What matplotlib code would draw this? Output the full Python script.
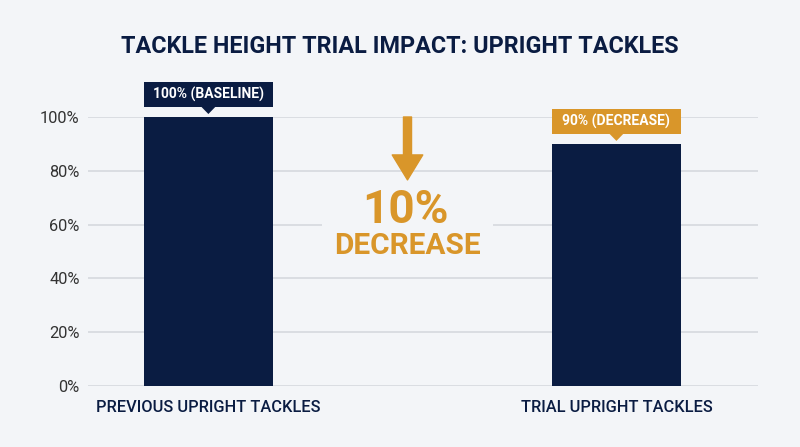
import matplotlib
matplotlib.use("Agg")
import matplotlib.pyplot as plt
from matplotlib.patches import Rectangle, Polygon, FancyArrowPatch

plt.rcParams['font.family'] = ['Roboto', 'DejaVu Sans']

categories = ["PREVIOUS UPRIGHT TACKLES", "TRIAL UPRIGHT TACKLES"]
values = [100, 90]
box_labels = ["100% (BASELINE)", "90% (DECREASE)"]
yticks = [0, 20, 40, 60, 80, 100]
change_pct = "10%"
change_word = "DECREASE"

bg = "#f3f5f8"
navy = "#0a1c42"
orange = "#d9962a"
grid_col = "#d8dbe0"

fig = plt.figure(figsize=(8, 4.47), dpi=100, facecolor=bg)
ax = fig.add_axes([0.11, 0.1365, 0.837, 0.6018])
ax.set_facecolor(bg)

x = list(range(len(values)))
bw = 0.316
ax.bar(x, values, width=bw, color=navy, zorder=3)

ax.set_xlim(-0.295, 1.346)
ax.set_ylim(0, 100)
ax.set_yticks(yticks)
ax.set_yticklabels([f"{t}%" for t in yticks], fontsize=11.8, color="#333333")
ax.set_xticks(x)
ax.set_xticklabels(categories, fontsize=11.8, color=navy, fontweight="medium")
ax.tick_params(axis="both", length=0)
ax.tick_params(axis="y", pad=6)
ax.tick_params(axis="x", pad=10)
ax.grid(axis="y", color=grid_col, linewidth=1.3, zorder=0)
for s in ax.spines.values():
    s.set_visible(False)

# callout boxes above bars
box_colors = [navy, orange]
for xi, v, lab, c in zip(x, values, box_labels, box_colors):
    b0 = v + 3.8
    h = 9.1
    ax.add_patch(Rectangle((xi - bw / 2, b0), bw, h, facecolor=c,
                           edgecolor="none", clip_on=False, zorder=4))
    ax.add_patch(Polygon([(xi - 0.018, b0 + 0.1), (xi + 0.018, b0 + 0.1), (xi, v + 1.1)],
                         closed=True, facecolor=c, edgecolor="none",
                         clip_on=False, zorder=4))
    ax.text(xi, b0 + h / 2, lab, ha="center", va="center", color="white",
            fontsize=10, fontweight="bold", zorder=5, clip_on=False)

# decrease arrow and text
xm = 0.488
arrow = FancyArrowPatch((xm, values[0]), (xm, 76.6),
                        arrowstyle="simple,head_length=1.8,head_width=2.2,tail_width=0.58",
                        mutation_scale=10, shrinkA=0, shrinkB=0,
                        color=orange, zorder=5, clip_on=False)
ax.add_patch(arrow)
ax.text(xm, 52.0, change_word, ha="center", va="center", color=orange,
        fontsize=21.5, fontweight="bold", zorder=5,
        bbox=dict(boxstyle="square,pad=0.42", facecolor=bg, edgecolor="none"))
ax.text(xm - 0.006, 65.5, change_pct, ha="center", va="center", color=orange,
        fontsize=33, fontweight="bold", zorder=6)

fig.text(0.5, 0.895, "TACKLE HEIGHT TRIAL IMPACT: UPRIGHT TACKLES",
         ha="center", va="center", fontsize=16.8, fontweight="bold", color=navy)

fig.savefig("out.png", dpi=100, facecolor=bg)
